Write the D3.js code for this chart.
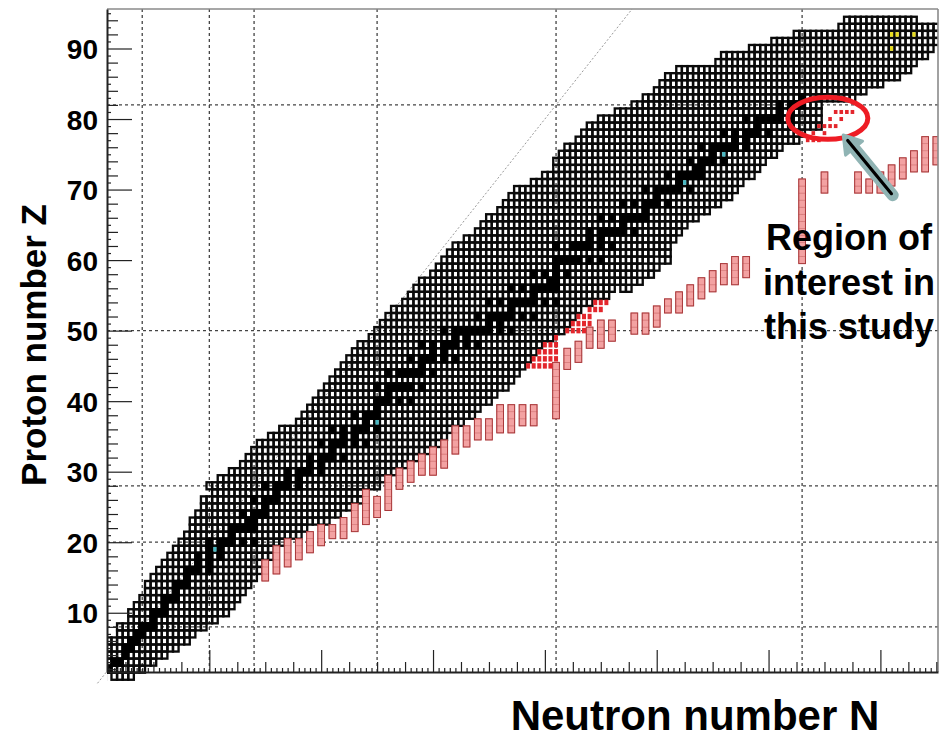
<!DOCTYPE html>
<html>
<head>
<meta charset="utf-8">
<script src="https://cdn.jsdelivr.net/npm/d3@7"></script>
<style>
  body { margin: 0; background: #fff; }
  svg { display: block; }
  text { font-family: "Liberation Sans", Arial, sans-serif; font-weight: bold; fill: #000; }
</style>
</head>
<body>
<svg id="chart" width="940" height="739"></svg>
<script>
// ---- Known nuclides: one row per proton number Z, from lightest to heaviest neutron number ----
const protonNumbers = [
   1, 2, 3, 4, 5, 6, 7, 8, 9,10,11,12,13,14,15,16,17,18,19,20,
  21,22,23,24,25,26,27,28,29,30,31,32,33,34,35,36,37,38,39,40,
  41,42,43,44,45,46,47,48,49,50,51,52,53,54,55,56,57,58,59,60,
  61,62,63,64,65,66,67,68,69,70,71,72,73,74,75,76,77,78,79,80,
  81,82,83,84,85,86,87,88,89,90,91,92,93,94
];
const lightestN = [
   3, 1, 1, 2, 2, 2, 4, 4, 6, 6, 7, 8, 9, 9,10,11,12,13,14,15,
  16,17,17,18,19,19,21,20,22,24,26,27,28,29,31,33,36,37,38,39,
  40,41,42,43,44,45,46,47,49,50,51,52,53,55,56,57,58,60,61,62,
  63,64,66,68,69,70,72,73,74,75,78,80,82,82,83,84,86,87,88,90,
  93,96,98,100,101,102,104,111,112,117,121,125,133,134
];
const heaviestN = [
   6, 8,10,12,14,16,17,19,21,23,24,25,26,27,28,29,29,31,31,33,
  36,37,41,43,45,47,47,50,51,53,55,57,59,61,62,63,65,67,68,70,
  71,73,74,75,76,77,78,79,81,83,84,85,86,88,91,95,97,99,100,102,
 102,102,103,104,105,107,109,111,113,114,115,117,118,119,121,122,125,126,129,129,
 129,129,135,137,140,143,145,146,148,149,151,151,151,146
];
// cells inside the band that are not known (narrow channel on the neutron-rich side)
const missingCells = [[93,56],[95,57],[97,58],[98,59],[100,60]];

// ---- Stable nuclides (black) ----
const stableZ = [
   1, 2, 3, 4, 5, 6, 7, 8, 9,10,11,12,13,14,15,16,17,18,19,20,
  21,22,23,24,25,26,27,28,29,30,31,32,33,34,35,36,37,38,39,40,
  41,42,44,45,46,47,48,49,50,51,52,53,54,55,56,57,58,59,60,62,
  63,64,65,66,67,68,69,70,71,72,73,74,75,76,77,78,79,80,81,82,83
];
const stableN = [
  [0,1],[1,2],[3,4],[5],[5,6],[6,7],[7,8],[8,9,10],[10],[10,11,12],
  [12],[12,13,14],[14],[14,15,16],[16],[16,17,18,20],[18,20],[18,20,22],[20,22],[20,22,23,24,26,28],
  [24],[24,25,26,27,28],[27,28],[26,28,29,30],[30],[28,30,31,32],[32],[30,32,33,34,36],[34,36],[34,36,37,38,40],
  [38,40],[38,40,41,42,44],[42],[40,42,43,44,46,48],[44,46],[42,44,46,47,48,50],[48],[46,48,49,50],[50],[50,51,52,54,56],
  [52],[50,52,53,54,55,56,58],[52,54,55,56,57,58,60],[58],[56,58,59,60,62,64],[60,62],[58,60,62,63,64,66,68],[64,66],[62,64,65,66,67,68,69,70,72,74],[70,72],
  [68,70,71,72,73,74,76,78],[74],[70,72,74,75,76,77,78,80,82],[78],[74,76,78,79,80,81,82],[81,82],[78,80,82,84],[82],[82,83,84,85,86,88,90],[82,85,86,87,88,90,92],
  [88,90],[88,90,91,92,93,94,96],[94],[90,92,94,95,96,97,98],[98],[94,96,98,99,100,102],[100],[98,100,101,102,103,104,106],[104],[102,104,105,106,107,108],
  [107,108],[106,108,109,110,112],[110],[108,110,111,112,113,114,116],[114,116],[112,114,116,117,118,120],[118],[116,118,119,120,121,122,124],[122,124],[122,124,125,126],[126]
];
// long-lived primordial radionuclides [N, Z]
const longLivedCyan = [[21,19],[50,37],[105,71],[112,75]];
const longLivedYellow = [[142,90],[142,92],[143,92],[146,92]];

// ---- r-process path segments: column N, from Z low to Z high ----
const pathN   = [30,32,34,36,38,40,42,44,46,48,50,52,54,56,58,60,62,64,66,68,70,72,74,76,78,82,
                 84,86,88,90,92,96,98,100,102,104,106,108,110,112,114,116,126,130,136,138,140,142,144,146,148,150];
const pathZlo = [15,16,17,18,19,20,21,21,22,23,24,25,28,29,30,30,31,33,34,35,35,36,36,37,37,38,
                 45,46,48,48,49,50,50,51,53,53,54,55,56,57,57,58,60,70,70,70,70,71,72,73,73,74];
const pathZhi = [17,19,20,20,21,22,22,23,25,27,26,29,30,31,32,33,34,36,36,37,37,39,39,39,39,45,
                 47,48,50,51,51,52,52,53,54,55,56,57,58,59,60,60,71,72,72,71,72,73,74,75,77,77];

// ---- Recently measured nuclides (red) [N, Z] ----
const measuredMid = [
  [77,45],[78,45],[79,45],[80,45],[81,45],
  [78,46],[79,46],[80,46],[81,46],[82,46],
  [79,47],[80,47],[81,47],[82,47],
  [80,48],[81,48],[82,48],[82,49],
  [84,50],[85,50],[86,50],[87,50],
  [85,51],[86,51],[87,51],[88,51],
  [86,52],[87,52],[88,52],
  [88,53],[89,53],[90,53],
  [89,54],[90,54],[91,54]
];
const measuredHeavy = [
  [127,77],[128,77],[129,77],
  [128,78],[130,78],
  [129,79],[130,79],[131,79],[132,79],
  [131,80],[133,80],
  [132,81],[133,81],[134,81],[135,81]
];

// ---- Axes ----
const magicNumbers = [8, 20, 28, 50, 82, 126];
const yMajorTicks = [10, 20, 30, 40, 50, 60, 70, 80, 90];
const xMajorTicks = [20, 40, 60, 80, 100, 120, 140];

const svg = d3.select("#chart");
const x = d3.scaleLinear().domain([1.7, 150.3]).range([107, 938]);
const y = d3.scaleLinear().domain([1.6, 95.6]).range([672, 9]);
const [x0, x1] = x.range();
const [yb, yt] = y.range();

svg.append("defs").append("clipPath").attr("id", "plotClip")
  .append("rect").attr("x", x0).attr("y", yt).attr("width", x1 - x0).attr("height", 700 - yt);

// magic-number grid
const grid = svg.append("g").attr("stroke", "#444").attr("stroke-width", 1.3).attr("stroke-dasharray", "3,3");
grid.selectAll(".vg").data(magicNumbers).join("line")
  .attr("x1", d => x(d)).attr("x2", d => x(d)).attr("y1", yt).attr("y2", yb);
grid.selectAll(".hg").data(magicNumbers.filter(d => d < 95)).join("line")
  .attr("y1", d => y(d)).attr("y2", d => y(d)).attr("x1", x0).attr("x2", x1);

// N = Z line
svg.append("line")
  .attr("x1", x(0)).attr("y1", y(0)).attr("x2", x(95.6)).attr("y2", y(95.6))
  .attr("stroke", "#999").attr("stroke-width", 1).attr("stroke-dasharray", "2,2");

// cell geometry
const cx0 = n => x(n - 0.5), cw = n => x(n + 0.5) - x(n - 0.5);
const cy0 = z => y(z + 0.5), ch = z => y(z - 0.5) - y(z + 0.5);

const missingKey = new Set(missingCells.map(d => d[0] + ":" + d[1]));
const knownCells = [];
protonNumbers.forEach((z, i) => {
  for (let n = lightestN[i]; n <= heaviestN[i]; n++) {
    if (!missingKey.has(n + ":" + z)) knownCells.push([n, z]);
  }
});
const stableCells = [];
stableZ.forEach((z, i) => stableN[i].forEach(n => stableCells.push([n, z])));

const plot = svg.append("g").attr("clip-path", "url(#plotClip)");

plot.append("g").selectAll("rect").data(knownCells).join("rect")
  .attr("x", d => cx0(d[0])).attr("y", d => cy0(d[1]))
  .attr("width", d => cw(d[0])).attr("height", d => ch(d[1]))
  .attr("fill", "none").attr("stroke", "#0a0a0a").attr("stroke-width", 2.35);

plot.append("g").selectAll("rect").data(stableCells).join("rect")
  .attr("x", d => cx0(d[0])).attr("y", d => cy0(d[1]))
  .attr("width", d => cw(d[0])).attr("height", d => ch(d[1]))
  .attr("fill", "#000").attr("stroke", "#000").attr("stroke-width", 2.35);

plot.append("g").selectAll("rect").data(longLivedCyan).join("rect")
  .attr("x", d => cx0(d[0]) + 1.2).attr("y", d => cy0(d[1]) + 1.2)
  .attr("width", d => cw(d[0]) - 2.4).attr("height", d => ch(d[1]) - 2.4)
  .attr("fill", "#49b9c4");
plot.append("g").selectAll("rect").data(longLivedYellow).join("rect")
  .attr("x", d => cx0(d[0]) + 1.2).attr("y", d => cy0(d[1]) + 1.2)
  .attr("width", d => cw(d[0]) - 2.4).attr("height", d => ch(d[1]) - 2.4)
  .attr("fill", "#e8dc1e");

// r-process path columns
const pathCells = [];
pathN.forEach((n, i) => { for (let z = pathZlo[i]; z <= pathZhi[i]; z++) pathCells.push([n, z]); });
const bw = 0.6;
plot.append("g").selectAll("rect").data(pathCells).join("rect")
  .attr("x", d => x(d[0] - bw)).attr("y", d => cy0(d[1]))
  .attr("width", d => x(d[0] + bw) - x(d[0] - bw)).attr("height", d => ch(d[1]))
  .attr("fill", "#f3a2a2").attr("stroke", "#d47474").attr("stroke-width", 0.6);
plot.append("g").selectAll("rect").data(pathN).join("rect")
  .attr("x", d => x(d - bw)).attr("y", (d, i) => y(pathZhi[i] + 0.5))
  .attr("width", d => x(d + bw) - x(d - bw))
  .attr("height", (d, i) => y(pathZlo[i] - 0.5) - y(pathZhi[i] + 0.5))
  .attr("fill", "none").attr("stroke", "#a8383a").attr("stroke-width", 1);

// measured nuclides
plot.append("g").selectAll("rect").data(measuredMid).join("rect")
  .attr("x", d => cx0(d[0]) + 0.8).attr("y", d => cy0(d[1]) + 0.8)
  .attr("width", d => cw(d[0]) - 1.6).attr("height", d => ch(d[1]) - 1.6)
  .attr("fill", "#e3262c");
plot.append("g").selectAll("rect").data(measuredHeavy).join("rect")
  .attr("x", d => x(d[0]) - 1.8).attr("y", d => y(d[1]) - 2)
  .attr("width", 3.6).attr("height", 4)
  .attr("fill", "#e3262c");

// frame
svg.append("line").attr("x1", x0).attr("x2", x1).attr("y1", yt).attr("y2", yt)
  .attr("stroke", "#8a8a8a").attr("stroke-width", 1.6);
svg.append("line").attr("x1", x1).attr("x2", x1).attr("y1", yt).attr("y2", yb)
  .attr("stroke", "#8a8a8a").attr("stroke-width", 1.6);

// Y axis
const yMid = d3.range(2, 96, 2).filter(v => v % 10 !== 0 && v > 1.6);
const ySmall = d3.range(3, 96, 2);
svg.append("g").attr("transform", `translate(${x0},0)`)
  .call(d3.axisLeft(y).tickValues(ySmall).tickSize(-4).tickSizeOuter(0).tickFormat(""))
  .call(g => g.select(".domain").remove());
svg.append("g").attr("transform", `translate(${x0},0)`)
  .call(d3.axisLeft(y).tickValues(yMid).tickSize(-11).tickSizeOuter(0).tickFormat(""))
  .call(g => g.select(".domain").remove());
const yAxis = svg.append("g").attr("transform", `translate(${x0},0)`)
  .call(d3.axisLeft(y).tickValues(yMajorTicks).tickSize(-25).tickSizeOuter(0).tickPadding(9).tickFormat(d3.format("d")));
yAxis.selectAll("text").style("font-size", "28px").style("font-family", "'Liberation Sans', Arial, sans-serif")
  .style("font-weight", "bold").attr("dy", "0.36em");

// X axis
const xMinor = d3.range(2, 151, 1).filter(v => v % 5 !== 0);
const xMid = d3.range(5, 151, 5).filter(v => v % 20 !== 0);
svg.append("g").attr("transform", `translate(0,${yb})`)
  .call(d3.axisBottom(x).tickValues(xMinor).tickSize(-4).tickSizeOuter(0).tickFormat(""))
  .call(g => g.select(".domain").remove());
svg.append("g").attr("transform", `translate(0,${yb})`)
  .call(d3.axisBottom(x).tickValues(xMid).tickSize(-10).tickSizeOuter(0).tickFormat(""))
  .call(g => g.select(".domain").remove());
svg.append("g").attr("transform", `translate(0,${yb})`)
  .call(d3.axisBottom(x).tickValues(xMajorTicks).tickSize(-22).tickSizeOuter(0).tickFormat(""));

svg.selectAll(".tick line").attr("stroke", "#222").attr("stroke-width", 1.2);
svg.selectAll(".domain").attr("stroke", "#222").attr("stroke-width", 2);

// axis titles
svg.append("text").attr("transform", "translate(46,345) rotate(-90)")
  .attr("text-anchor", "middle").style("font-size", "35px").text("Proton number Z");
svg.append("text").attr("x", 695).attr("y", 730)
  .attr("text-anchor", "middle").style("font-size", "42px").text("Neutron number N");

// region of interest annotation
svg.append("ellipse")
  .attr("cx", x(130.6)).attr("cy", y(80.1)).attr("rx", 40).attr("ry", 21)
  .attr("fill", "none").attr("stroke", "#ee1c24").attr("stroke-width", 5);

const aTop = [x(133.7), y(77.4)], aEnd = [x(142.2), y(69.2)];
const ang = Math.atan2(aEnd[1] - aTop[1], aEnd[0] - aTop[0]);
const px = -Math.sin(ang), py = Math.cos(ang);
const headLen = 14, headW = 11;
const hb = [aTop[0] + Math.cos(ang) * headLen, aTop[1] + Math.sin(ang) * headLen];
svg.append("line").attr("x1", hb[0]).attr("y1", hb[1]).attr("x2", aEnd[0]).attr("y2", aEnd[1])
  .attr("stroke", "#90b4b4").attr("stroke-width", 12).attr("stroke-linecap", "round");
svg.append("polygon")
  .attr("points", [[aTop[0] - Math.cos(ang) * 3, aTop[1] - Math.sin(ang) * 3],
                   [hb[0] + px * headW, hb[1] + py * headW],
                   [hb[0] - px * headW, hb[1] - py * headW]].map(p => p.join(",")).join(" "))
  .attr("fill", "#90b4b4").attr("stroke", "#90b4b4").attr("stroke-width", 3).attr("stroke-linejoin", "round");
svg.append("line").attr("x1", aTop[0] + Math.cos(ang) * 4).attr("y1", aTop[1] + Math.sin(ang) * 4)
  .attr("x2", aEnd[0] - Math.cos(ang) * 2).attr("y2", aEnd[1] - Math.sin(ang) * 2)
  .attr("stroke", "#000").attr("stroke-width", 3.2).attr("stroke-linecap", "round");

const noteLines = ["Region of", "interest in", "this study"];
svg.append("g").selectAll("text").data(noteLines).join("text")
  .attr("x", 849).attr("y", (d, i) => 250 + i * 44.5)
  .attr("text-anchor", "middle").style("font-size", "36px").text(d => d);
</script>
</body>
</html>
